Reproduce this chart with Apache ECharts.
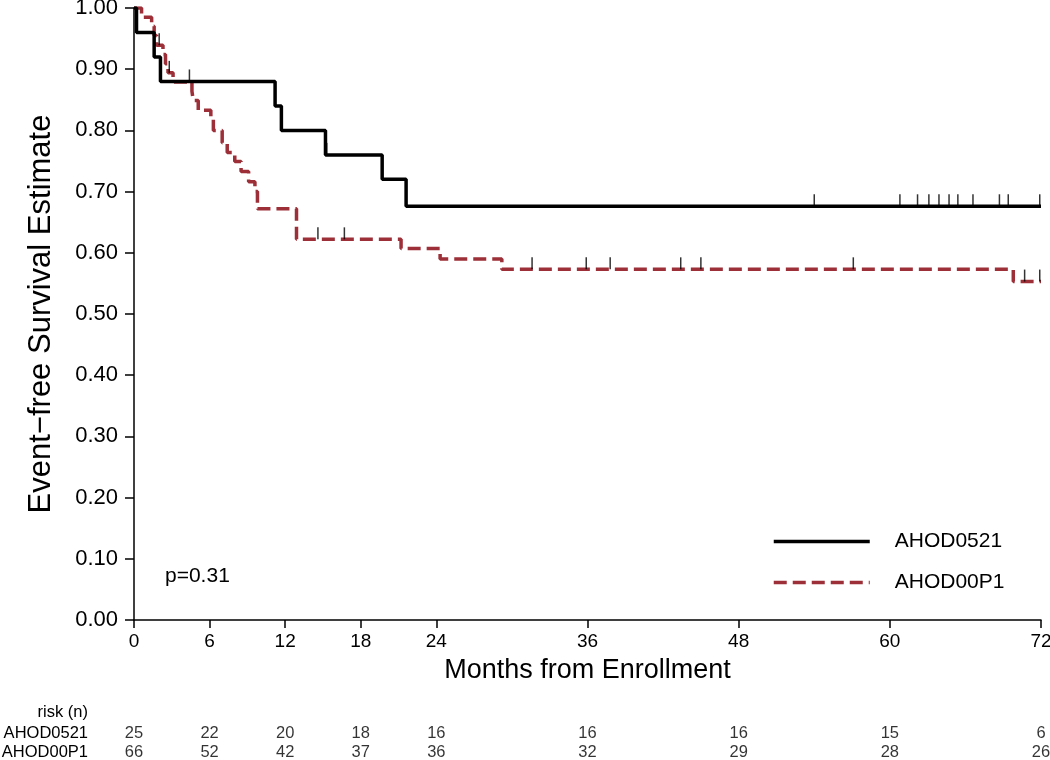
<!DOCTYPE html>
<html>
<head>
<meta charset="utf-8">
<script src="https://cdn.jsdelivr.net/npm/echarts@6/dist/echarts.min.js"></script>
<style>html,body{margin:0;padding:0;background:#fff}#c{width:1050px;height:760px}</style>
</head>
<body>
<div id="c"></div>
<script>
// ---- data ----
const seriesNames = ['AHOD0521', 'AHOD00P1'];
// Kaplan-Meier steps [month, survival]
const kmAHOD0521 = [[0,1.0],[0.2,0.96],[1.6,0.92],[2.1,0.88],[11.2,0.84],[11.7,0.80],[15.2,0.76],[19.7,0.72],[21.6,0.676],[72,0.676]];
const kmAHOD00P1 = [[0,1.0],[0.6,0.985],[1.4,0.970],[1.6,0.955],[1.8,0.939],[2.3,0.924],[2.5,0.909],[2.7,0.894],[3.1,0.879],[4.6,0.864],[4.7,0.849],[5.1,0.833],[6.1,0.818],[6.3,0.800],[7.0,0.780],[7.4,0.764],[8.0,0.749],[8.5,0.733],[9.1,0.716],[9.6,0.700],[9.8,0.672],[12.9,0.622],[21.2,0.607],[24.3,0.590],[29.2,0.573],[69.8,0.553],[72,0.553]];
// censored observations [month, survival]
const censorAHOD0521 = [[4.4,0.88],[15.3,0.76],[54.0,0.676],[60.8,0.676],[62.2,0.676],[63.1,0.676],[63.9,0.676],[64.7,0.676],[65.4,0.676],[66.6,0.676],[68.7,0.676],[69.4,0.676],[71.9,0.676]];
const censorAHOD00P1 = [[2.0,0.939],[2.8,0.894],[14.6,0.622],[16.7,0.622],[31.6,0.573],[35.9,0.573],[37.8,0.573],[43.4,0.573],[45.0,0.573],[57.1,0.573],[70.7,0.553],[71.9,0.553]];
const xTicks = [0,6,12,18,24,36,48,60,72];
const riskAHOD0521 = [25,22,20,18,16,16,16,15,6];
const riskAHOD00P1 = [66,52,42,37,36,32,29,28,26];
const pText = 'p=0.31';

const FONT = "'Liberation Sans', Arial, sans-serif";
const RED = '#9C2F37';

const riskData = [];
xTicks.forEach((t,i)=>{ riskData.push([t, 0, riskAHOD0521[i]]); riskData.push([t, 1, riskAHOD00P1[i]]); });

const chart = echarts.init(document.getElementById('c'), null, {renderer:'canvas'});
chart.setOption({
  animation:false,
  backgroundColor:'#fff',
  grid:[
    {left:134, right:9, top:8, bottom:140, containLabel:false, outerBoundsMode:'none'},
    {left:134, right:9, top:723.5, height:38, containLabel:false, outerBoundsMode:'none'}
  ],
  xAxis:[
    {gridIndex:0, type:'value', min:0, max:72, interval:6,
     name:'Months from Enrollment', nameLocation:'middle', nameGap:37,
     nameTextStyle:{fontFamily:FONT, fontSize:27, color:'#000'},
     axisLine:{lineStyle:{color:'#000', width:1.5}},
     axisTick:{customValues:xTicks, length:8, lineStyle:{color:'#000', width:1.5}},
     axisLabel:{customValues:xTicks, fontFamily:FONT, fontSize:19, color:'#000', margin:12},
     splitLine:{show:false}},
    {gridIndex:1, type:'value', min:0, max:72, interval:6,
     axisLine:{show:false}, axisTick:{show:false}, axisLabel:{show:false}, splitLine:{show:false}}
  ],
  yAxis:[
    {gridIndex:0, type:'value', min:0, max:1, interval:0.1,
     name:'Event\u2212free Survival Estimate', nameLocation:'middle', nameGap:77, nameRotate:90,
     nameTextStyle:{fontFamily:FONT, fontSize:31, color:'#000'},
     axisLine:{show:true, lineStyle:{color:'#000', width:1.5}},
     axisTick:{show:true, length:9, lineStyle:{color:'#000', width:1.5}},
     axisLabel:{fontFamily:FONT, fontSize:22, color:'#000', margin:16, formatter:v=>v.toFixed(2)},
     splitLine:{show:false}},
    {gridIndex:1, type:'category', data:seriesNames, inverse:true,
     axisLine:{show:false}, axisTick:{show:false}, splitLine:{show:false},
     axisLabel:{interval:0, fontFamily:FONT, fontSize:16.5, color:'#000', margin:46}}
  ],
  legend:{
    data:seriesNames, orient:'vertical', left:772, top:531, padding:0,
    itemWidth:96, itemHeight:20, itemGap:20,
    itemStyle:{opacity:0},
    lineStyle:{width:3.5},
    textStyle:{fontFamily:FONT, fontSize:21, color:'#000', padding:[0,0,0,20]}
  },
  graphic:[
    {type:'text', left:165, top:566, style:{text:pText, font:"21px 'Liberation Sans', Arial", fill:'#000'}},
    {type:'text', right:1050-88, top:704, style:{text:'risk (n)', font:"16.5px 'Liberation Sans', Arial", fill:'#000'}}
  ],
  series:[
    {name:'AHOD0521', type:'line', xAxisIndex:0, yAxisIndex:0, step:'end', data:kmAHOD0521,
     symbol:'none', showSymbol:false, z:3,
     lineStyle:{color:'#000', width:3.5}, itemStyle:{color:'#000'}},
    {name:'AHOD00P1', type:'line', xAxisIndex:0, yAxisIndex:0, step:'end', data:kmAHOD00P1,
     symbol:'none', showSymbol:false, z:2,
     lineStyle:{color:RED, width:3.5, type:[13,6]}, itemStyle:{color:RED}},
    {name:'censor0521', type:'scatter', xAxisIndex:0, yAxisIndex:0, data:censorAHOD0521,
     symbol:'rect', symbolSize:[1.5,12], symbolOffset:[0,-6], itemStyle:{color:'#000'}, z:4, silent:true},
    {name:'censor00P1', type:'scatter', xAxisIndex:0, yAxisIndex:0, data:censorAHOD00P1,
     symbol:'rect', symbolSize:[1.5,12], symbolOffset:[0,-6], itemStyle:{color:'#000'}, z:4, silent:true},
    {name:'risk', type:'scatter', xAxisIndex:1, yAxisIndex:1, data:riskData,
     encode:{x:0, y:1}, symbolSize:2, itemStyle:{color:'rgba(0,0,0,0)'}, silent:true,
     label:{show:true, position:'inside', formatter:p=>String(p.value[2]),
            fontFamily:FONT, fontSize:16.5, color:'#000', textBorderWidth:0, textBorderColor:'transparent'}}
  ]
});
</script>
</body>
</html>
